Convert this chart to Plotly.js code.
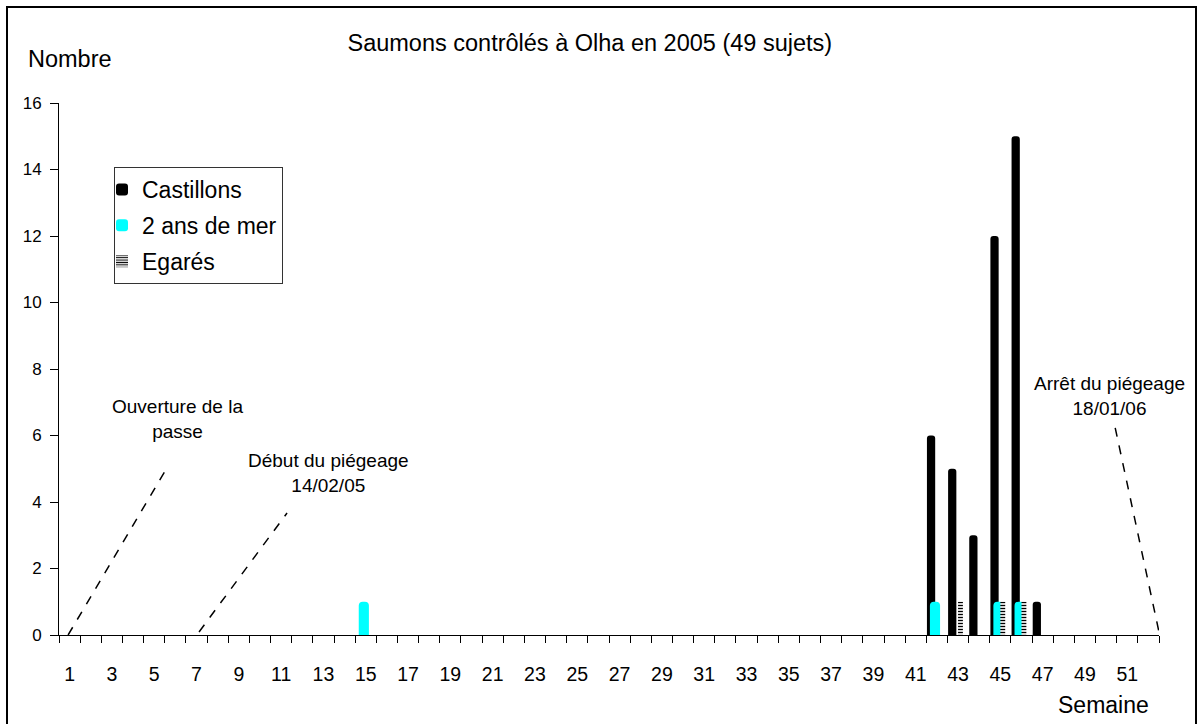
<!DOCTYPE html>
<html>
<head>
<meta charset="utf-8">
<script src="https://cdn.plot.ly/plotly-3.0.1.min.js"></script>
<style>html,body{margin:0;padding:0;background:#fff;}#chart{width:1197px;height:724px;}</style>
</head>
<body>
<div id="chart"></div>
<script>
// Weeks (Semaine) 1..52
const weeks = [1,2,3,4,5,6,7,8,9,10,11,12,13,14,15,16,17,18,19,20,21,22,23,24,25,26,
               27,28,29,30,31,32,33,34,35,36,37,38,39,40,41,42,43,44,45,46,47,48,49,50,51,52];
const castillons = [0,0,0,0,0,0,0,0,0,0,0,0,0,0,0,0,0,0,0,0,0,0,0,0,0,0,
                    0,0,0,0,0,0,0,0,0,0,0,0,0,0,0,6,5,3,12,15,1,0,0,0,0,0];
const deuxAnsDeMer = [0,0,0,0,0,0,0,0,0,0,0,0,0,0,1,0,0,0,0,0,0,0,0,0,0,0,
                      0,0,0,0,0,0,0,0,0,0,0,0,0,0,0,1,0,0,1,1,0,0,0,0,0,0];
const egares = [0,0,0,0,0,0,0,0,0,0,0,0,0,0,0,0,0,0,0,0,0,0,0,0,0,0,
                0,0,0,0,0,0,0,0,0,0,0,0,0,0,0,0,1,0,1,1,0,0,0,0,0,0];
const xTickVals = [1,3,5,7,9,11,13,15,17,19,21,23,25,27,29,31,33,35,37,39,41,43,45,47,49,51];
const xTickText = ["1","3","5","7","9","11","13","15","17","19","21","23","25","27","29","31","33","35","37","39","41","43","45","47","49","51"];
const yTickVals = [0,2,4,6,8,10,12,14,16];

const font = "Liberation Sans, Arial, Helvetica, sans-serif";

const traces = [
  {type:'bar', name:'Castillons', x:weeks, y:castillons, legendgroup:'a',
   offset:-0.47, width:0.39,
   marker:{color:'#000000', line:{width:0}, cornerradius:3}, hoverinfo:'x+y'},
  {type:'bar', name:'2 ans de mer', x:weeks, y:deuxAnsDeMer, legendgroup:'b',
   offset:-0.33, width:0.48,
   marker:{color:'#00FFFF', line:{width:0}, cornerradius:4}, hoverinfo:'x+y'},
  {type:'bar', name:'Egarés', x:weeks, y:egares, legendgroup:'c',
   offset:0.0, width:0.23,
   marker:{color:'#ffffff', line:{width:0},
           pattern:{shape:'-', fgcolor:'#000000', bgcolor:'#ffffff', size:3, solidity:0.45}},
   hoverinfo:'x+y'}
];

const dash = {color:'#000000', width:1.5, dash:'dash'};

const layout = {
  width:1197, height:724,
  margin:{l:59, r:38, t:103, b:89},
  paper_bgcolor:'#ffffff', plot_bgcolor:'#ffffff',
  barmode:'overlay',
  font:{family:font, color:'#000000', size:18},
  title:{text:'Saumons contrôlés à Olha en 2005 (49 sujets)', x:(601-59)/1100, xanchor:'center',
         y:1-43/724, yanchor:'middle', font:{family:font, size:23.5, color:'#000000'}},
  xaxis:{range:[0.5,52.5], type:'linear', tickmode:'array', tickvals:xTickVals, ticktext:xTickText,
         ticks:'', showgrid:false, zeroline:false, showline:true, linecolor:'#000000', linewidth:1,
         tickfont:{family:font, size:19.5, color:'#000000'}, ticklabelstandoff:22,
         minor:{tick0:0.5, dtick:1, ticks:'outside', ticklen:7, tickcolor:'#000000', tickwidth:1, showgrid:false},
         fixedrange:true},
  yaxis:{range:[0,16], tickmode:'array', tickvals:yTickVals, ticks:'outside', ticklen:8,
         tickcolor:'#000000', showgrid:false, zeroline:false, showline:true, linecolor:'#000000',
         linewidth:1, tickfont:{family:font, size:17, color:'#000000'}, ticklabelstandoff:5, fixedrange:true},
  legend:{x:(114-59)/1100, y:(635-167)/532, xanchor:'left', yanchor:'top',
          bgcolor:'#ffffff', bordercolor:'#333333', borderwidth:1, indentation:-13,
          font:{family:font, size:23, color:'#000000'}, traceorder:'grouped', tracegroupgap:3},
  annotations:[
    {text:'Nombre', xref:'paper', yref:'paper', x:(70-59)/1100, y:(635-59)/532,
     showarrow:false, xanchor:'center', yanchor:'middle', font:{size:23.5}},
    {text:'Semaine', xref:'paper', yref:'paper', x:(1103-59)/1100, y:(635-705)/532,
     showarrow:false, xanchor:'center', yanchor:'middle', font:{size:23}},
    {text:'Ouverture de la<br>passe', xref:'x', yref:'y', x:6.1, y:6.5,
     showarrow:false, xanchor:'center', yanchor:'middle', font:{size:19}},
    {text:'Début du piégeage<br>14/02/05', xref:'x', yref:'y', x:13.25, y:4.87,
     showarrow:false, xanchor:'center', yanchor:'middle', font:{size:19}},
    {text:'Arrêt du piégeage<br>18/01/06', xref:'x', yref:'y', x:50.15, y:7.2,
     showarrow:false, xanchor:'center', yanchor:'middle', font:{size:19}}
  ],
  shapes:[
    {type:'line', xref:'x', yref:'y', x0:0.93, y0:0, x1:5.65, y1:5.08, line:dash},
    {type:'line', xref:'x', yref:'y', x0:7.12, y0:0.09, x1:11.28, y1:3.67, line:dash},
    {type:'line', xref:'x', yref:'y', x0:50.43, y0:6.23, x1:52.5, y1:0.09, line:dash},
    {type:'rect', xref:'paper', yref:'paper', x0:(7-59)/1100, x1:(1196-59)/1100,
     y0:(635-740)/532, y1:(635-7)/532, line:{color:'#000000', width:2}, fillcolor:'rgba(0,0,0,0)', layer:'below'}
  ],
  showlegend:true
};

Plotly.newPlot('chart', traces, layout, {displayModeBar:false, staticPlot:true});
</script>
</body>
</html>
